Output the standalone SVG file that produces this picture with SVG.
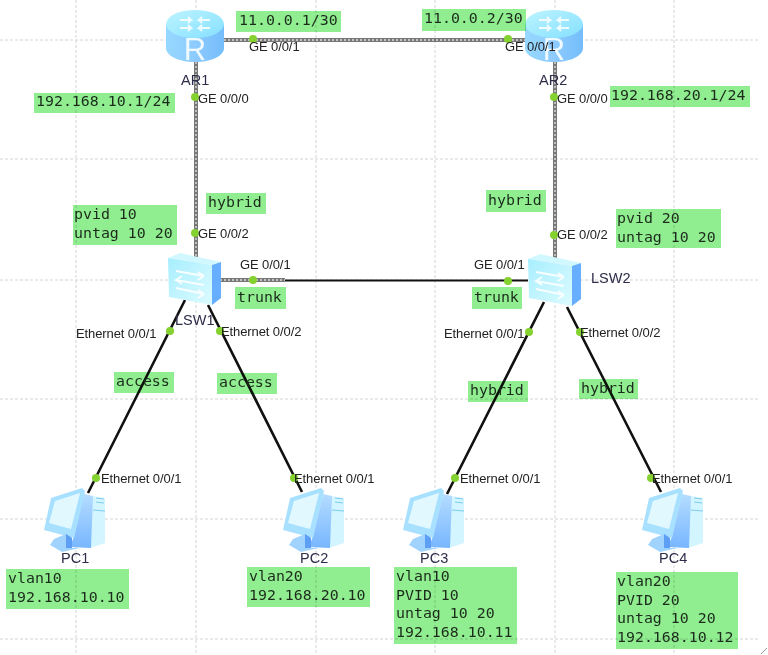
<svg xmlns="http://www.w3.org/2000/svg" width="768" height="655" viewBox="0 0 768 655">
<style>
.grid{stroke:#d4d4d4;stroke-width:1;stroke-dasharray:3 2;fill:none}
.box{fill:#90ee90;mix-blend-mode:multiply}
.m{font-family:"DejaVu Sans Mono","Liberation Mono",monospace;font-size:14.9px;fill:#1c2b1c}
.s{font-family:"Liberation Sans",Arial,sans-serif;font-size:13px;fill:#222;letter-spacing:-.1px}
.n{font-family:"Liberation Sans",Arial,sans-serif;font-size:14.5px;fill:#2d2d4a}
.g1{stroke:#777;stroke-width:4;fill:none}
.g2{stroke:#ddd;stroke-width:1.4;stroke-dasharray:2 2;fill:none}
.b{stroke:#111;stroke-width:2.600;fill:none}
.d{fill:#84d12f}
</style>
<defs>
<linearGradient id="rb" x1="0" x2="1" y1="0" y2="0"><stop offset="0" stop-color="#96d8ff"/><stop offset=".5" stop-color="#8ecbff"/><stop offset="1" stop-color="#74bdfb"/></linearGradient>
<linearGradient id="rt" x1="0" x2="1" y1="0" y2="1"><stop offset="0" stop-color="#bdf4ff"/><stop offset="1" stop-color="#85e0ff"/></linearGradient>
<linearGradient id="sf" x1="0" x2="1" y1="0" y2="1"><stop offset="0" stop-color="#a8eeff"/><stop offset="1" stop-color="#dcfbff"/></linearGradient>
<linearGradient id="pb" x1="0" x2="0" y1="0" y2="1"><stop offset="0" stop-color="#b4dcff"/><stop offset="1" stop-color="#78b6ff"/></linearGradient>
<g id="router">
<path d="M166 24V48C166 56 179 62 195 62S224 56 224 48V24Z" fill="url(#rb)"/>
<ellipse cx="195" cy="24" rx="29" ry="14" fill="url(#rt)"/>
<g stroke="#eefcff" stroke-width="2" fill="none"><path d="M180 20H191L188 17M191 20L188 23M210 20H199L202 17M199 20L202 23M180 28H191L188 25M191 28L188 31M210 28H199L202 25M199 28L202 31"/></g>
<text x="195" y="60" text-anchor="middle" font-family="Liberation Sans,sans-serif" font-size="31" fill="#eefaff">R</text>
</g>
<g id="switch">
<polygon points="168,258 180,253 221,262 212,265" fill="#d2f8ff"/>
<polygon points="168,258 212,265 212,305 169,297" fill="url(#sf)"/>
<polygon points="212,265 221,262 221,298 212,305" fill="#68aeff"/>
<g stroke="#f8feff" stroke-width="1.800" fill="none"><path d="M176 271L204 276L198 272M204 276L198 280M204 285L176 280L182 276M176 280L182 284M176 288L204 294L198 290M204 294L198 298"/></g>
</g>
<g id="pc">
<polygon points="92,496 105,498 105,543 90,548" fill="#d2f5ff"/>
<polygon points="84,494 93,496 91,548 70,547 74,536" fill="url(#pb)"/>
<polygon points="51,498 82,488 85,491 74,538 44,530" fill="#a8e0ff"/>
<polygon points="55,501 80,493 71,529 49,523" fill="#e2f8ff"/>
<polygon points="54,539 66,534 72,538 72,548 80,548 62,552 50,545" fill="#a0d4ff"/>
<polygon points="66,534 72,538 72,548 66,548" fill="#5c9ff5"/>
<path d="M96 498L104 499M96 502L104 503M93 510L105 511" stroke="#7ecbf0" stroke-width="1"/>
</g>
</defs>
<rect width="768" height="655" fill="#fff"/>
<g id="grid">
<path class="grid" d="M76 0V655M196 0V655M316 0V655M435 0V655M555 0V655M674 0V655"/>
<path class="grid" d="M0 40H760M0 159H760M0 280H760M0 399H760M0 519H760M0 639H760"/>
</g>
<g id="connectors">
<path class="g1" d="M224 40H526M196 62V258M555 62V258"/>
<path class="g2" d="M224 40H526M196 62V258M555 62V258"/>
<path class="g1" d="M220 280H285"/><path class="g2" d="M220 280H285"/>
<path class="b" d="M285 280.500H528" style="stroke-width:2"/>
<path class="b" d="M185 300L88 493M208 305L302 492M544 302L447 494M567 307L661 492"/>
</g>
<g id="AR1"><use href="#router"/><text class="n" x="181" y="85">AR1</text></g>
<g id="AR2"><use href="#router" x="359"/><text class="n" x="539" y="85">AR2</text></g>
<g id="LSW1"><use href="#switch"/><text class="n" x="175" y="325">LSW1</text></g>
<g id="LSW2"><use href="#switch" x="360" y="1"/><text class="n" x="591" y="283">LSW2</text></g>
<g id="PC1"><use href="#pc"/><text class="n" x="61" y="563">PC1</text></g>
<g id="PC2"><use href="#pc" x="239"/><text class="n" x="300" y="563">PC2</text></g>
<g id="PC3"><use href="#pc" x="359"/><text class="n" x="420" y="563">PC3</text></g>
<g id="PC4"><use href="#pc" x="598"/><text class="n" x="659" y="563">PC4</text></g>
<g id="ports">
<circle class="d" cx="253" cy="39" r="4"/><circle class="d" cx="195" cy="97" r="4"/><circle class="d" cx="195" cy="233" r="4"/>
<circle class="d" cx="508" cy="39" r="4"/><circle class="d" cx="554" cy="97" r="4"/><circle class="d" cx="554" cy="235" r="4"/>
<circle class="d" cx="253" cy="280" r="4"/><circle class="d" cx="508" cy="281" r="4"/>
<circle class="d" cx="170" cy="331" r="4"/><circle class="d" cx="220" cy="331" r="4"/><circle class="d" cx="529" cy="332" r="4"/><circle class="d" cx="580" cy="332" r="4"/>
<circle class="d" cx="96" cy="478" r="4"/><circle class="d" cx="294" cy="478" r="4"/><circle class="d" cx="455" cy="478" r="4"/><circle class="d" cx="651" cy="478" r="4"/>
<text class="s" x="249" y="51">GE 0/0/1</text><text class="s" x="198" y="103">GE 0/0/0</text><text class="s" x="198" y="238">GE 0/0/2</text>
<text class="s" x="505" y="51">GE 0/0/1</text><text class="s" x="557" y="103">GE 0/0/0</text><text class="s" x="557" y="239">GE 0/0/2</text>
<text class="s" x="240" y="269">GE 0/0/1</text><text class="s" x="474" y="269">GE 0/0/1</text>
<text class="s" x="76" y="338">Ethernet 0/0/1</text><text class="s" x="221" y="336">Ethernet 0/0/2</text><text class="s" x="444" y="338">Ethernet 0/0/1</text><text class="s" x="580" y="337">Ethernet 0/0/2</text>
<text class="s" x="101" y="483">Ethernet 0/0/1</text><text class="s" x="294" y="483">Ethernet 0/0/1</text><text class="s" x="460" y="483">Ethernet 0/0/1</text><text class="s" x="652" y="483">Ethernet 0/0/1</text>
</g>
<g id="labels">
<rect class="box" x="236" y="11" width="105" height="21"/><text class="m" x="239" y="25">11.0.0.1/30</text>
<rect class="box" x="34" y="93" width="141" height="20"/><text class="m" x="36" y="106">192.168.10.1/24</text>
<rect class="box" x="206" y="193" width="60" height="21"/><text class="m" x="208" y="207">hybrid</text>
<rect class="box" x="73" y="205" width="104" height="40"/><text class="m" x="74" y="219">pvid 10</text><text class="m" x="74" y="238">untag 10 20</text>
<rect class="box" x="422" y="9" width="104" height="22"/><text class="m" x="424" y="23">11.0.0.2/30</text>
<rect class="box" x="610" y="86" width="140" height="21"/><text class="m" x="611" y="100">192.168.20.1/24</text>
<rect class="box" x="486" y="190" width="60" height="22"/><text class="m" x="488" y="205">hybrid</text>
<rect class="box" x="616" y="209" width="105" height="39"/><text class="m" x="617" y="223">pvid 20</text><text class="m" x="617" y="242">untag 10 20</text>
<rect class="box" x="235" y="287" width="51" height="22"/><text class="m" x="237" y="302">trunk</text>
<rect class="box" x="472" y="287" width="50" height="22"/><text class="m" x="474" y="302">trunk</text>
<rect class="box" x="114" y="372" width="60" height="21"/><text class="m" x="116" y="386">access</text>
<rect class="box" x="217" y="373" width="60" height="21"/><text class="m" x="219" y="387">access</text>
<rect class="box" x="468" y="381" width="60" height="21"/><text class="m" x="470" y="395">hybrid</text>
<rect class="box" x="579" y="379" width="59" height="20"/><text class="m" x="581" y="393">hybrid</text>
<rect class="box" x="6" y="569" width="123" height="40"/><text class="m" x="8" y="583">vlan10</text><text class="m" x="8" y="602">192.168.10.10</text>
<rect class="box" x="247" y="567" width="123" height="40"/><text class="m" x="249" y="581">vlan20</text><text class="m" x="249" y="600">192.168.20.10</text>
<rect class="box" x="394" y="567" width="123" height="77"/><text class="m" x="396" y="581">vlan10</text><text class="m" x="396" y="600">PVID 10</text><text class="m" x="396" y="618">untag 10 20</text><text class="m" x="396" y="637">192.168.10.11</text>
<rect class="box" x="616" y="572" width="122" height="77"/><text class="m" x="617" y="586">vlan20</text><text class="m" x="617" y="605">PVID 20</text><text class="m" x="617" y="623">untag 10 20</text><text class="m" x="617" y="642">192.168.10.12</text>
</g>
<path d="M761 654L767 648" stroke="#999" stroke-width="1"/>
</svg>
